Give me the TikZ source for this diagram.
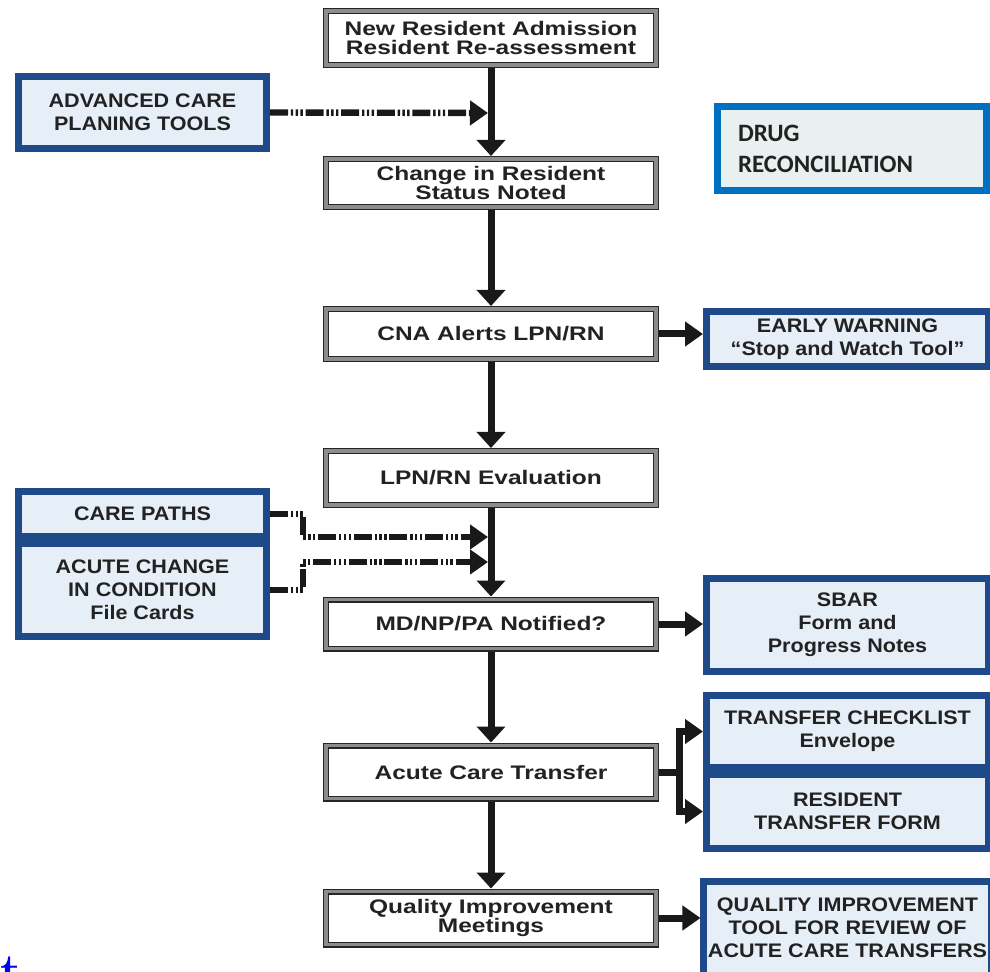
\documentclass[tikz,border=0pt]{standalone}
\usepackage{fontspec}
\newfontfamily\flowfont[FakeStretch=1.25]{Liberation Sans}
\newfontfamily\toolfont[FakeStretch=1.1]{Liberation Sans}
\newfontfamily\drugfont{Carlito}
\usetikzlibrary{arrows.meta,positioning,calc}
\definecolor{toolnavy}{HTML}{1F4A8A}
\definecolor{toolfill}{HTML}{E6EEF8}
\definecolor{drugblue}{HTML}{0070C0}
\definecolor{drugfill}{HTML}{E8F0F0}
\definecolor{ink}{HTML}{222222}
\definecolor{linkblue}{HTML}{0000FF}
\tikzset{
  flowbox/.style={
    rectangle, draw=black!85, line width=0.6pt,
    double=black!45, double distance=1.8pt, fill=white,
    minimum width=165pt, outer sep=1.5pt, inner sep=2pt,
    font=\flowfont\bfseries\fontsize{9.8}{9.2}\selectfont,
    text=ink, align=center
  },
  toolbox/.style={
    rectangle, draw=toolnavy, line width=3.5pt, fill=toolfill,
    minimum width=#1, inner sep=2pt,
    font=\toolfont\bfseries\fontsize{9.8}{11.5}\selectfont,
    text=ink, align=center
  },
  toolbox/.default=124pt,
  drugbox/.style={
    rectangle, draw=drugblue, line width=3.6pt, fill=drugfill,
    text width=114pt, inner xsep=10.25pt, minimum height=42pt,
    font=\drugfont\bfseries\fontsize{12.5}{15.5}\selectfont,
    text=ink, align=left
  },
  mainarrow/.style={
    -{Triangle[width=14pt, length=8pt]}, line width=3.5pt, draw=black!90
  },
  sidearrow/.style={
    -{Triangle[width=12pt, length=9pt]}, line width=3.5pt, draw=black!90
  },
  linkarrow/.style={
    -{Triangle[width=12pt, length=9pt]}, line width=3.2pt, draw=black!90,
    dash pattern=on 9pt off 1.4pt on 1.2pt off 1.2pt on 1.2pt off 1.2pt on 1.2pt off 1.4pt
  },
}
\begin{document}
\begin{tikzpicture}[x=0.5pt, y=-0.5pt]
\path[use as bounding box, fill=white] (0,0) rectangle (990,972);

% Main column
\node[flowbox, minimum height=27pt] (admit) at (491,38) {New Resident Admission\\Resident Re-assessment};
\node[flowbox, minimum height=24pt] (change) at (491,183) {Change in Resident\\Status Noted};
\node[flowbox, minimum height=25pt] (cna) at (491,334) {CNA Alerts LPN/RN};
\node[flowbox, minimum height=27pt] (lpn) at (491,478) {LPN/RN Evaluation};
\node[flowbox, minimum height=24.5pt] (notify) at (491,624) {MD/NP/PA Notified?};
\node[flowbox, minimum height=26.5pt] (transfer) at (491,772) {Acute Care Transfer};
\node[flowbox, minimum height=26.5pt] (meeting) at (491,918) {Quality Improvement\\Meetings};

% Tools on the left
\node[toolbox, minimum height=36pt] (acp) at (142.5,112.5) {ADVANCED CARE\\PLANING TOOLS};
\node[toolbox, minimum height=22.5pt] (paths) at (142.5,514) {CARE PATHS};
\node[toolbox, minimum height=46.5pt, below=0pt of paths] (cards) {ACUTE CHANGE\\IN CONDITION\\File Cards};

% Tools on the right
\node[drugbox] (drug) at (852,148.5) {DRUG\\RECONCILIATION};
\node[toolbox=141pt, minimum height=27.5pt] (warn) at (847.5,339) {EARLY WARNING\\“Stop and Watch Tool”};
\node[toolbox=141pt, minimum height=46.5pt] (sbar) at (847.5,625) {SBAR\\Form and\\Progress Notes};
\node[toolbox=141pt, minimum height=36pt] (checklist) at (847.5,731.5) {TRANSFER CHECKLIST\\Envelope};
\node[toolbox=141pt, minimum height=37pt, below=0pt of checklist] (rtform) {RESIDENT\\TRANSFER FORM};
\node[toolbox=141pt, minimum height=47pt] (qitool) at (847.5,928) {QUALITY IMPROVEMENT\\TOOL FOR REVIEW OF\\ACUTE CARE TRANSFERS};

\node[font=\bfseries\fontsize{24}{24}\selectfont, text=linkblue, anchor=north west, inner sep=0pt] (tmark) at (0,957) {t};

% Main flow
\foreach \a/\b in {admit/change, change/cna, cna/lpn, lpn/notify, notify/transfer, transfer/meeting}
  \draw[mainarrow] (\a) -- (\b);

% Out to the tools
\draw[sidearrow] (cna.east) -- (cna.east -| warn.west);
\draw[sidearrow] (notify.east) -- (notify.east -| sbar.west);
\draw[sidearrow] (meeting.east) -- (meeting.east -| qitool.west);
\draw[sidearrow] (transfer.east) -- ++(20,0) |- (checklist.west);
\draw[sidearrow] (transfer.east) -- ++(20,0) |- (rtform.west);

% Tools feeding the flow
\coordinate (acpend) at (488,113);
\coordinate (pathsend) at (488,537);
\coordinate (cardsend) at (488,562);
\draw[linkarrow] (acp.east) -- (acpend);
\draw[linkarrow] (paths.east) -- ++(33,0) |- (pathsend);
\draw[linkarrow] (cards.east) -- ++(33,0) |- (cardsend);

\end{tikzpicture}
\end{document}
